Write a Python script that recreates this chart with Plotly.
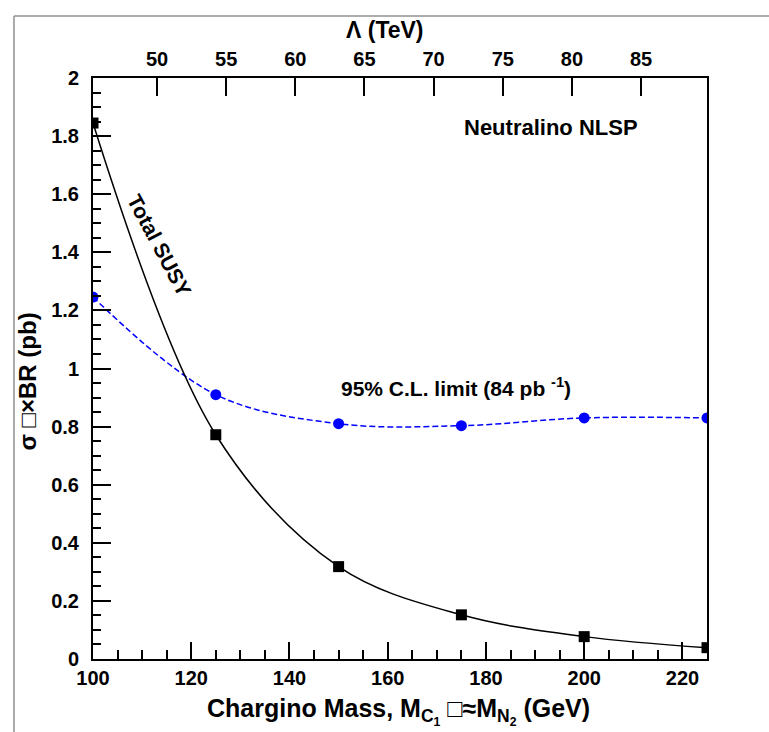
import plotly.graph_objects as go

# ---- data ----
mass = [100, 125, 150, 175, 200, 225]
total_susy = [1.845, 0.772, 0.318, 0.152, 0.077, 0.039]
limit_95 = [1.246, 0.910, 0.810, 0.803, 0.830, 0.830]

x_ticks = [100, 120, 140, 160, 180, 200, 220]
y_ticks = [0, 0.2, 0.4, 0.6, 0.8, 1, 1.2, 1.4, 1.6, 1.8, 2]
y_ticklabels = ["0", "0.2", "0.4", "0.6", "0.8", "1", "1.2", "1.4", "1.6", "1.8", "2"]
lambda_ticks = [50, 55, 60, 65, 70, 75, 80, 85]
lambda_range = [45.37, 89.77]

FONT = "Liberation Sans, Arial, Helvetica, sans-serif"

fig = go.Figure()

fig.add_trace(go.Scatter(
    x=mass, y=limit_95, mode="lines+markers",
    line=dict(color="#0000ff", width=1.5, dash="6px,3px", shape="spline", smoothing=1.0),
    marker=dict(symbol="circle", size=11, color="#0000ff"),
    showlegend=False, hoverinfo="skip"))

fig.add_trace(go.Scatter(
    x=mass, y=total_susy, mode="lines+markers",
    line=dict(color="black", width=1.5, shape="spline", smoothing=1.0),
    marker=dict(symbol="square", size=11, color="black"),
    showlegend=False, hoverinfo="skip"))

# invisible trace to activate the top Lambda axis
fig.add_trace(go.Scatter(
    x=lambda_range, y=[None, None], xaxis="x2", mode="markers",
    marker=dict(opacity=0), showlegend=False, hoverinfo="skip"))

tickfont = dict(family=FONT, size=20, color="black", weight="bold")

fig.update_layout(
    width=769, height=732,
    margin=dict(l=93, r=62, t=78, b=73),
    paper_bgcolor="white", plot_bgcolor="white",
    font=dict(family=FONT, color="black"),
    xaxis=dict(
        range=[100, 225], tickvals=x_ticks, ticks="inside", ticklen=17, tickwidth=1.5,
        tickcolor="black", showline=True, linecolor="black", linewidth=2,
        showgrid=False, zeroline=False, tickfont=tickfont, mirror=False,
        minor=dict(dtick=5, tick0=100, ticks="inside", ticklen=9, tickcolor="black", tickwidth=1.5, showgrid=False),
        ticklabelstandoff=0,
    ),
    xaxis2=dict(
        range=lambda_range, tickvals=lambda_ticks, overlaying="x", side="top",
        ticks="inside", ticklen=18, tickwidth=1.5, tickcolor="black",
        showline=True, linecolor="black", linewidth=2, showgrid=False, zeroline=False,
        tickfont=tickfont, ticklabelstandoff=2,
    ),
    yaxis=dict(
        range=[0, 2], tickvals=y_ticks, ticktext=y_ticklabels,
        ticks="inside", ticklen=18, tickwidth=1.5, tickcolor="black",
        showline=True, linecolor="black", linewidth=2, mirror=True,
        showgrid=False, zeroline=False, tickfont=tickfont,
        minor=dict(dtick=0.05, tick0=0, ticks="inside", ticklen=8, tickcolor="black", tickwidth=1.5, showgrid=False),
        ticklabelstandoff=8,
    ),
)

# outer frame lines (left and top)
fig.add_shape(type="line", xref="paper", yref="paper",
              x0=-0.1287, x1=-0.1287, y0=-0.14, y1=1.1067,
              line=dict(color="#909090", width=1.5))
fig.add_shape(type="line", xref="paper", yref="paper",
              x0=-0.1287, x1=1.12, y0=1.1067, y1=1.1067,
              line=dict(color="#909090", width=1.5))

# axis titles as annotations
fig.add_annotation(xref="paper", yref="paper", x=0.475, y=1.082, yanchor="middle",
                   text="Λ (TeV)", showarrow=False,
                   font=dict(family=FONT, size=23, color="black", weight="bold"))
fig.add_annotation(xref="paper", yref="paper", x=0.497, y=-0.091, yanchor="middle",
                   text="Chargino Mass, M<sub>C<sub>1</sub></sub> □≈M<sub>N<sub>2</sub></sub> (GeV)",
                   showarrow=False,
                   font=dict(family=FONT, size=25, color="black", weight="bold"))
fig.add_annotation(xref="paper", yref="paper", x=-0.107, y=0.478, xanchor="center",
                   text="σ □×BR (pb)", textangle=-90, showarrow=False,
                   font=dict(family=FONT, size=24, color="black", weight="bold"))

# in-plot labels
fig.add_annotation(x=193.2, y=1.828, text="Neutralino NLSP", showarrow=False,
                   font=dict(family=FONT, size=22, color="black", weight="bold"))
fig.add_annotation(x=113.6, y=1.425, text="Total SUSY", textangle=62, showarrow=False,
                   font=dict(family=FONT, size=21, color="black", weight="bold"))
fig.add_annotation(x=173.9, y=0.936, text="95% C.L. limit (84 pb <sup>-1</sup>)", showarrow=False,
                   font=dict(family=FONT, size=21, color="black", weight="bold"))

fig.write_html("out.html")
